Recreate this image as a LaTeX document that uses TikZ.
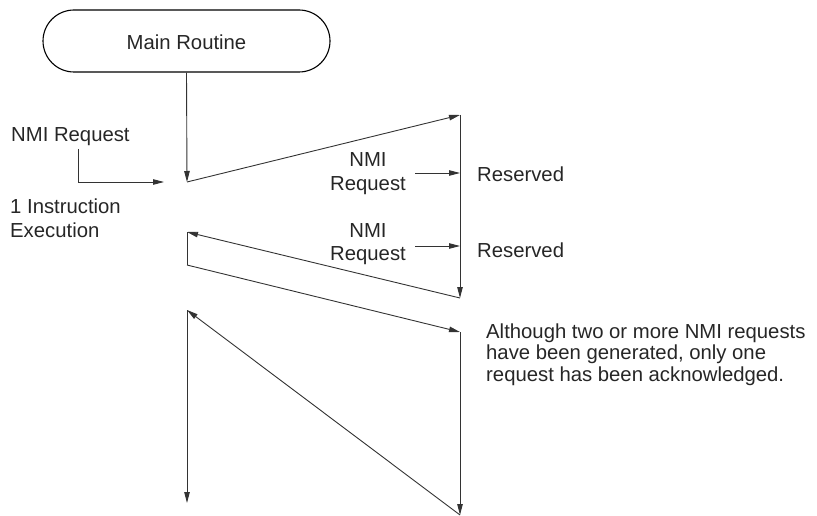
\documentclass[tikz,border=0pt]{standalone}
\usepackage{fontspec}
\setmainfont{Liberation Sans}
\usetikzlibrary{arrows.meta}
\begin{document}
\begin{tikzpicture}[x=1pt,y=-1pt,
  every node/.style={font=\fontsize{20.3}{22}\selectfont, inner sep=0pt, text=black!85},
  conn/.style={draw=black!80, line width=0.9pt},
  arr/.style={conn, -{Triangle[length=11pt,width=5.5pt]}},
  lbl/.style={anchor=base west},
  clbl/.style={anchor=base}]
\useasboundingbox (0,0) rectangle (817,516);
% start terminal
\node[draw=black, line width=1.1pt, rounded corners=31pt, minimum width=287pt, minimum height=62pt] (main) at (186.5,41) {};
\node[clbl] (maintxt) at (186.5,49.5) {Main Routine};
% key points
\coordinate (p1) at (187,182);
\coordinate (q1) at (460,115);
\coordinate (q2) at (460,298);
\coordinate (p2) at (187,232);
\coordinate (p3) at (187,265);
\coordinate (q3) at (460,332);
\coordinate (q4) at (460,515);
\coordinate (p4) at (187,310);
\coordinate (p5) at (187,503);
% left NMI request
\node[lbl] (nmi0) at (11,142) {NMI Request};
\coordinate (n0a) at (78,149);
\coordinate (n0b) at (78,182);
\coordinate (n0c) at (164,182);
\draw[arr] (n0a) -- (n0b) -- (n0c);
\node[lbl] (exec1) at (10,213) {1 Instruction};
\node[lbl] (exec2) at (10,237) {Execution};
% main flow
\draw[arr] (main.south) -- (p1);
\draw[arr] (p1) -- (q1);
\draw[arr] (q1) -- (q2);
\draw[arr] (q2) -- (p2);
\draw[conn] (p2) -- (p3);
\draw[arr] (p3) -- (q3);
\draw[arr] (q3) -- (q4);
\draw[arr] (q4) -- (p4);
\draw[arr] (p4) -- (p5);
% NMI requests during processing
\node[clbl] (nmi1a) at (368,167) {NMI};
\node[clbl] (nmi1b) at (368,190) {Request};
\coordinate (r1a) at (415,173);
\coordinate (r1b) at (460,173);
\draw[arr] (r1a) -- (r1b);
\node[lbl] (res1) at (477,182) {Reserved};
\node[clbl] (nmi2a) at (368,237) {NMI};
\node[clbl] (nmi2b) at (368,260) {Request};
\coordinate (r2a) at (415,246);
\coordinate (r2b) at (460,246);
\draw[arr] (r2a) -- (r2b);
\node[lbl] (res2) at (477,257) {Reserved};
% note
\node[lbl] (note1) at (486,338) {Although two or more NMI requests};
\node[lbl] (note2) at (486,359.5) {have been generated, only one};
\node[lbl] (note3) at (486,381) {request has been acknowledged.};
\end{tikzpicture}
\end{document}
